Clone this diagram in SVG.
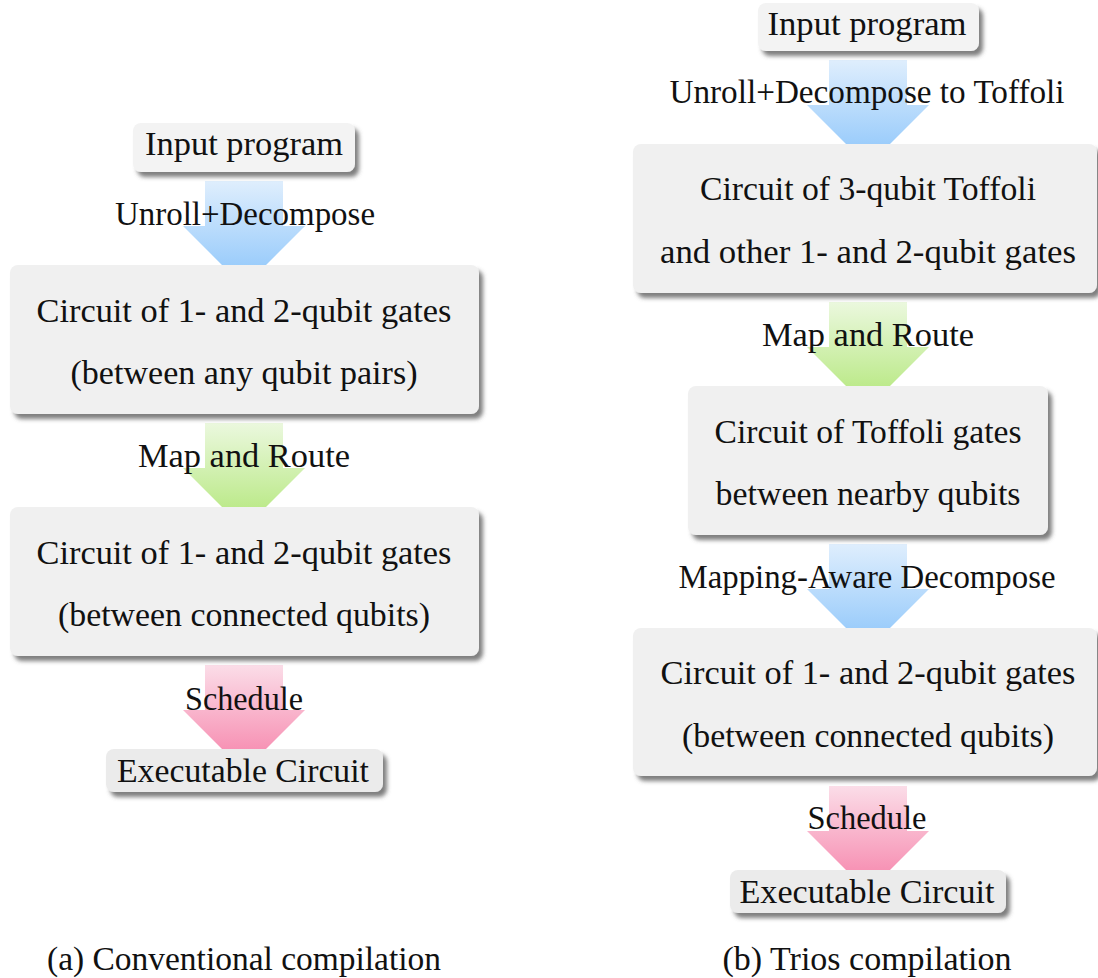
<svg xmlns="http://www.w3.org/2000/svg" width="1098" height="978" viewBox="0 0 1098 978">
<defs>
<linearGradient id="gBlue" x1="0" y1="0" x2="0" y2="1"><stop offset="0" stop-color="#dfeefd"/><stop offset="1" stop-color="#9ccdfb"/></linearGradient>
<linearGradient id="gGreen" x1="0" y1="0" x2="0" y2="1"><stop offset="0" stop-color="#ebf8de"/><stop offset="1" stop-color="#bdea8c"/></linearGradient>
<linearGradient id="gPink" x1="0" y1="0" x2="0" y2="1"><stop offset="0" stop-color="#fbdde8"/><stop offset="1" stop-color="#f793b5"/></linearGradient>
<filter id="sh" x="-10%" y="-20%" width="130%" height="150%">
<feDropShadow dx="4" dy="5" stdDeviation="2" flood-color="#555" flood-opacity="0.75"/>
</filter>
</defs>
<style>
text{font-family:"Liberation Serif","DejaVu Serif",serif;font-size:34px;fill:#111;text-anchor:middle}
.box{fill:#f0f0f0;filter:url(#sh)}
.small{fill:#f3f3f3;filter:url(#sh)}
.exe{fill:#ebebeb;filter:url(#sh)}
</style>
<rect width="1098" height="978" fill="#fff"/>
<g id="connectors">
<path d="M205,181H283V226H305L266,265H222L183,226H205Z" fill="url(#gBlue)"/>
<path d="M205,423H283V468H305L266,507H222L183,468H205Z" fill="url(#gGreen)"/>
<path d="M205,665H283V710H305L266,749H222L183,710H205Z" fill="url(#gPink)"/>
<path d="M829,60H907V105H929L890,144H846L807,105H829Z" fill="url(#gBlue)"/>
<path d="M829,302H907V347H929L890,386H846L807,347H829Z" fill="url(#gGreen)"/>
<path d="M829,544H907V589H929L890,628H846L807,589H829Z" fill="url(#gBlue)"/>
<path d="M829,786H907V831H929L890,870H846L807,831H829Z" fill="url(#gPink)"/>
<text x="245" y="225" textLength="260" lengthAdjust="spacingAndGlyphs">Unroll+Decompose</text>
<text x="244" y="467" textLength="212" lengthAdjust="spacingAndGlyphs">Map and Route</text>
<text x="244" y="710" textLength="118" lengthAdjust="spacingAndGlyphs">Schedule</text>
<text x="867" y="103" textLength="395" lengthAdjust="spacingAndGlyphs">Unroll+Decompose to Toffoli</text>
<text x="868" y="346" textLength="212" lengthAdjust="spacingAndGlyphs">Map and Route</text>
<text x="867" y="588" textLength="377" lengthAdjust="spacingAndGlyphs">Mapping-Aware Decompose</text>
<text x="867" y="829" textLength="119" lengthAdjust="spacingAndGlyphs">Schedule</text>
</g>
<g id="a-input">
<rect class="small" x="133" y="123" width="222" height="49" rx="8"/>
<text x="244" y="155" textLength="198" lengthAdjust="spacingAndGlyphs">Input program</text>
</g>
<g id="a-circuit-any">
<rect class="box" x="10" y="265" width="469" height="149" rx="8"/>
<text x="244" y="322" textLength="415" lengthAdjust="spacingAndGlyphs">Circuit of 1- and 2-qubit gates</text>
<text x="244" y="384" textLength="347" lengthAdjust="spacingAndGlyphs">(between any qubit pairs)</text>
</g>
<g id="a-circuit-connected">
<rect class="box" x="10" y="507" width="469" height="149" rx="8"/>
<text x="244" y="564" textLength="415" lengthAdjust="spacingAndGlyphs">Circuit of 1- and 2-qubit gates</text>
<text x="244" y="626" textLength="372" lengthAdjust="spacingAndGlyphs">(between connected qubits)</text>
</g>
<g id="a-exec">
<rect class="exe" x="106" y="749" width="277" height="43" rx="8"/>
<text x="243" y="782" textLength="252" lengthAdjust="spacingAndGlyphs">Executable Circuit</text>
</g>
<g id="b-input">
<rect class="small" x="758" y="3" width="221" height="48" rx="8"/>
<text x="867" y="35" textLength="199" lengthAdjust="spacingAndGlyphs">Input program</text>
</g>
<g id="b-toffoli">
<rect class="box" x="633" y="144" width="464" height="149" rx="8"/>
<text x="868" y="200" textLength="336" lengthAdjust="spacingAndGlyphs">Circuit of 3-qubit Toffoli</text>
<text x="868" y="263" textLength="416" lengthAdjust="spacingAndGlyphs">and other 1- and 2-qubit gates</text>
</g>
<g id="b-toffoli-nearby">
<rect class="box" x="688" y="386" width="360" height="149" rx="8"/>
<text x="868" y="443" textLength="307" lengthAdjust="spacingAndGlyphs">Circuit of Toffoli gates</text>
<text x="868" y="505" textLength="305" lengthAdjust="spacingAndGlyphs">between nearby qubits</text>
</g>
<g id="b-circuit-connected">
<rect class="box" x="633" y="628" width="464" height="148" rx="8"/>
<text x="868" y="684" textLength="415" lengthAdjust="spacingAndGlyphs">Circuit of 1- and 2-qubit gates</text>
<text x="868" y="747" textLength="372" lengthAdjust="spacingAndGlyphs">(between connected qubits)</text>
</g>
<g id="b-exec">
<rect class="exe" x="730" y="870" width="276" height="43" rx="8"/>
<text x="867" y="903" textLength="255" lengthAdjust="spacingAndGlyphs">Executable Circuit</text>
</g>
<g id="captions">
<text x="244" y="970" textLength="394" lengthAdjust="spacingAndGlyphs">(a) Conventional compilation</text>
<text x="867" y="970" textLength="289" lengthAdjust="spacingAndGlyphs">(b) Trios compilation</text>
</g>
</svg>
